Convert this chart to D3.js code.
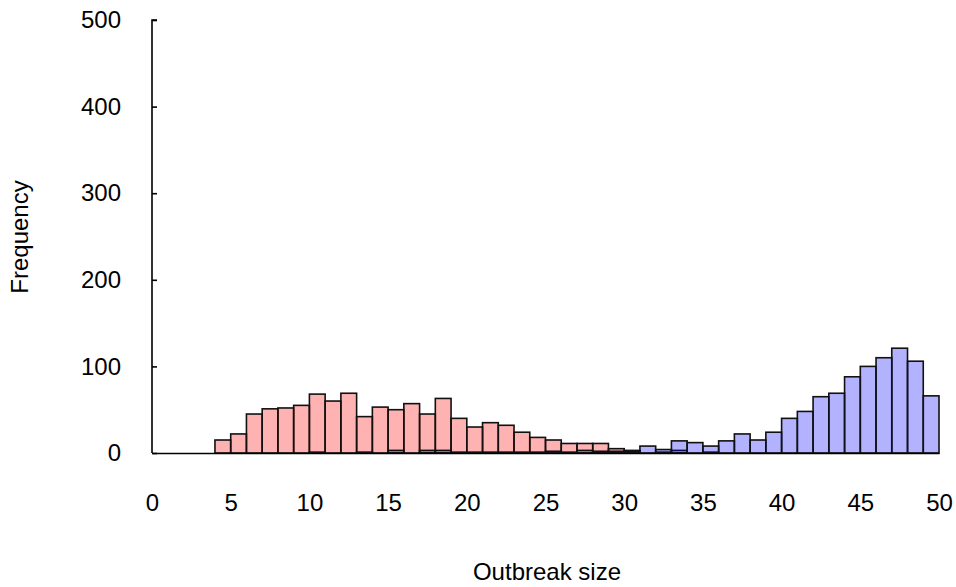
<!DOCTYPE html>
<html>
<head>
<meta charset="utf-8">
<script src="https://cdn.jsdelivr.net/npm/d3@7"></script>
<style>
  body { margin: 0; background: #fff; }
  text { font-family: "Liberation Sans", Arial, sans-serif; }
</style>
</head>
<body>
<svg width="956" height="587"></svg>
<script>
// bins are [k, k+1) for k = 4..49
var binStart = d3.range(4, 50);
var smallOutbreaks = [15, 22, 45, 51, 52, 55, 68, 60, 69, 42, 53, 50, 57, 45, 63, 40, 30, 35, 32, 24,
    18, 15, 11, 11, 11, 5, 3, 0, 1, 3, 0, 1, 0, 0, 0, 0, 0, 0, 0, 0, 0, 0, 0, 0, 0, 0];
var largeOutbreaks = [0, 0, 0, 0, 0, 0, 1, 0, 0, 1, 0, 3, 0, 3, 3, 1, 1, 1, 1, 1,
    1, 2, 1, 3, 2, 2, 2, 8, 4, 14, 12, 8, 14, 22, 15, 24, 40, 48, 65, 69, 88, 100, 110, 121, 106, 66];
var xTicks = [0, 5, 10, 15, 20, 25, 30, 35, 40, 45, 50];
var yTicks = [0, 100, 200, 300, 400, 500];

var svg = d3.select("svg"),
    margin = {top: 20, right: 17, bottom: 134, left: 152},
    width = +svg.attr("width") - margin.left - margin.right,
    height = +svg.attr("height") - margin.top - margin.bottom,
    g = svg.append("g").attr("transform", "translate(" + margin.left + "," + margin.top + ")");

var x = d3.scaleLinear().domain([0, 50]).range([0, width]);
var y = d3.scaleLinear().domain([0, 500]).range([height, 0]);

function drawSeries(values, fill) {
  var data = binStart.map(function(k, i) { return {k: k, v: values[i]}; })
      .filter(function(d) { return d.v > 0; });
  g.append("g")
    .selectAll("rect")
    .data(data)
    .enter().append("rect")
      .attr("x", function(d) { return x(d.k); })
      .attr("y", function(d) { return y(d.v); })
      .attr("width", function(d) { return x(d.k + 1) - x(d.k); })
      .attr("height", function(d) { return y(0) - y(d.v); })
      .attr("fill", fill)
      .attr("fill-opacity", 0.3)
      .attr("stroke", "#111")
      .attr("stroke-width", 1.6);
}

drawSeries(smallOutbreaks, "#ff0000");
drawSeries(largeOutbreaks, "#0000ff");

// y axis, ticks pointing inward
var yAxis = g.append("g")
    .call(d3.axisRight(y).tickValues(yTicks).tickSize(5).tickFormat(d3.format("d")));
yAxis.select(".domain").attr("d", "M5," + y(500) + "H0V" + y(0)).attr("stroke-width", 1.6);
yAxis.selectAll("line").attr("stroke-width", 1.6);
yAxis.selectAll("text")
    .attr("x", -31)
    .attr("text-anchor", "end")
    .attr("font-size", 24)
    .attr("fill", "#000");

// x axis, no tick marks
var xAxis = g.append("g")
    .attr("transform", "translate(0," + height + ")")
    .call(d3.axisBottom(x).tickValues(xTicks).tickSize(0));
xAxis.select(".domain").attr("stroke-width", 1.6);
xAxis.selectAll("text")
    .attr("y", 50)
    .attr("dy", "0.32em")
    .attr("font-size", 24)
    .attr("fill", "#000");

svg.append("text")
    .attr("transform", "translate(28,237) rotate(-90)")
    .attr("text-anchor", "middle")
    .attr("font-size", 24)
    .text("Frequency");

svg.append("text")
    .attr("x", 547)
    .attr("y", 580)
    .attr("text-anchor", "middle")
    .attr("font-size", 24)
    .text("Outbreak size");
</script>
</body>
</html>
